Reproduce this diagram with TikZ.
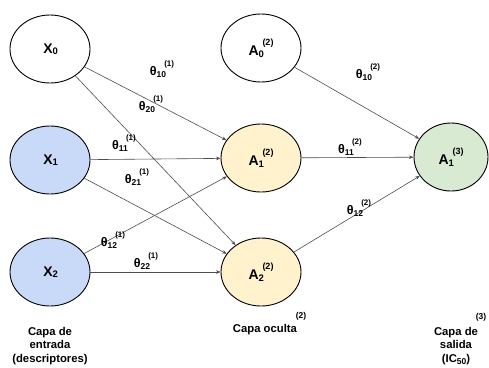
\documentclass[tikz,border=0pt]{standalone}
\usepackage{fontspec}
\setmainfont{Liberation Sans}
\usetikzlibrary{shapes.geometric,arrows.meta}
\definecolor{inblue}{HTML}{C9DAF8}
\definecolor{hidyel}{HTML}{FFF2CC}
\definecolor{outgrn}{HTML}{D9EAD3}
\newcommand{\sbsp}[3]{#1\raisebox{-0.25ex}{\fontsize{9.5}{10}\selectfont #2}\hspace{-0.1em}\raisebox{1.35ex}{\fontsize{9}{10}\selectfont #3}}
\newcommand{\thl}[2]{θ\raisebox{-0.3ex}{\fontsize{8.5}{9}\selectfont #1}\hspace{-0.15em}\raisebox{1.45ex}{\fontsize{8}{9}\selectfont #2}}
\begin{document}
\begin{tikzpicture}[x=1pt,y=-1pt,
  neuron/.style={ellipse,draw=black,line width=0.9pt,minimum width=80pt,minimum height=68pt,inner sep=0pt,
    font=\fontsize{14}{16}\selectfont\bfseries},
  conn/.style={draw=black!70,line width=0.6pt,-{Stealth[length=4.5pt,width=3.5pt]}},
  wlab/.style={font=\fontsize{12.5}{14}\selectfont\bfseries,inner sep=0pt},
  captxt/.style={font=\fontsize{11.3}{13.5}\selectfont\bfseries,align=center,inner sep=0pt},
  captnum/.style={font=\fontsize{8.5}{9}\selectfont\bfseries,inner sep=0pt}]
\useasboundingbox (0,0) rectangle (489,367);
% nodes
\node[neuron] (x0) at (50,49) {\sbsp{X}{0}{}};
\node[neuron,fill=inblue] (x1) at (50,160) {\sbsp{X}{1}{}};
\node[neuron,fill=inblue] (x2) at (50,272) {\sbsp{X}{2}{}};
\node[neuron] (a0) at (261,48) {\sbsp{A}{0}{(2)}};
\node[neuron,fill=hidyel] (a1) at (261,158) {\sbsp{A}{1}{(2)}};
\node[neuron,fill=hidyel] (a2) at (261,272) {\sbsp{A}{2}{(2)}};
\node[neuron,fill=outgrn,minimum width=74pt] (o1) at (451,157) {\sbsp{A}{1}{(3)}};
% connectors
\draw[conn] (x0) -- (a1);
\draw[conn] (x0) -- (a2);
\draw[conn] (x1) -- (a1);
\draw[conn] (x1) -- (a2);
\draw[conn] (x2) -- (a1);
\draw[conn] (x2) -- (a2);
\draw[conn] (a0) -- (o1);
\draw[conn] (a1) -- (o1);
\draw[conn] (a2) -- (o1);
% weight labels
\node[wlab] (t101) at (162,69) {\thl{10}{(1)}};
\node[wlab] (t201) at (151,104) {\thl{20}{(1)}};
\node[wlab] (t111) at (124,143) {\thl{11}{(1)}};
\node[wlab] (t211) at (137,177) {\thl{21}{(1)}};
\node[wlab] (t121) at (113,240) {\thl{12}{(1)}};
\node[wlab] (t221) at (146,261) {\thl{22}{(1)}};
\node[wlab] (t102) at (368,72) {\thl{10}{(2)}};
\node[wlab] (t112) at (350,147) {\thl{11}{(2)}};
\node[wlab] (t122) at (359,208) {\thl{12}{(2)}};
% captions
\node[captxt] (cin) at (50,346) {Capa de\\entrada\\(descriptores)};
\node[captxt] (chid) at (265,330) {Capa oculta};
\node[captnum] (chidn) at (301,316) {(2)};
\node[captxt] (cout) at (456,346) {Capa de\\salida\\(IC\raisebox{-0.3ex}{\fontsize{8.5}{9}\selectfont 50})};
\node[captnum] (coutn) at (481,317) {(3)};
\end{tikzpicture}
\end{document}
